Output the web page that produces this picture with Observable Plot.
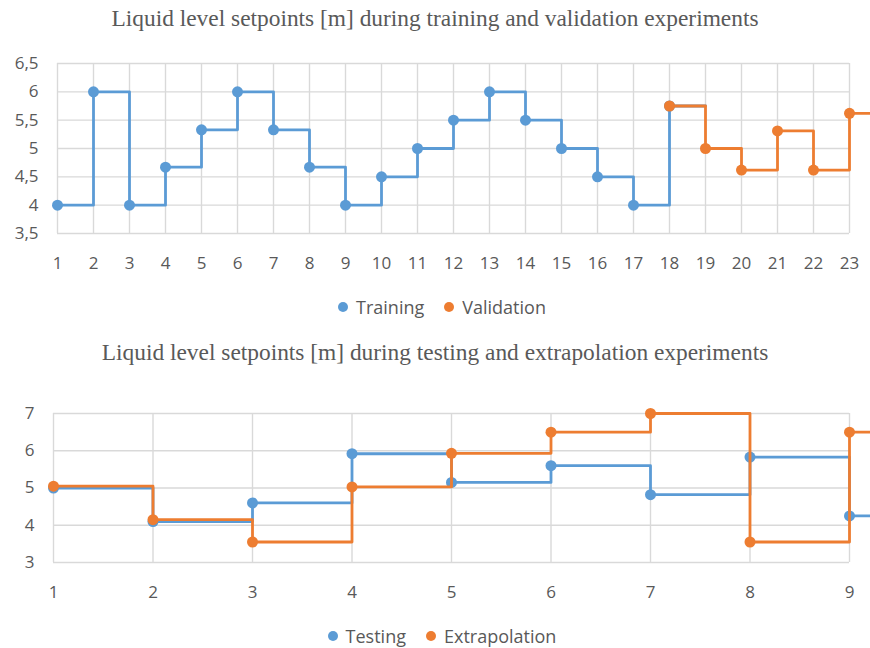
<!DOCTYPE html>
<html>
<head>
<meta charset="utf-8">
<script src="https://cdn.jsdelivr.net/npm/d3@7"></script>
<script src="https://cdn.jsdelivr.net/npm/@observablehq/plot@0.6"></script>
<style>
  html, body { margin: 0; padding: 0; background: #fff; overflow: hidden; }
  #page { position: relative; width: 870px; height: 648px; overflow: hidden; background: #fff; }
  .title { position: absolute; left: 0; width: 870px; text-align: center; line-height: 28px;
           font-family: "Liberation Serif", "DejaVu Serif", serif; font-size: 23.4px; color: #595959; }
  .legend { position: absolute; left: 7px; width: 870px; display: flex; justify-content: center;
            align-items: center; gap: 20px; line-height: 24px; font-family: "Open Sans", sans-serif; font-size: 18px; color: #595959; }
  .legend span.item { display: inline-flex; align-items: center; gap: 8px; }
  .legend i { display: inline-block; width: 10px; height: 10px; border-radius: 50%; }
  .chart { position: absolute; left: 0; }
</style>
</head>
<body>
<div id="page">
  <div class="title" style="top:4px">Liquid level setpoints [m] during training and validation experiments</div>
  <div class="chart" id="top" style="top:40px"></div>
  <div class="legend" id="legendTop" style="top:295px"></div>
  <div class="title" style="top:338px">Liquid level setpoints [m] during testing and extrapolation experiments</div>
  <div class="chart" id="bottom" style="top:390px"></div>
  <div class="legend" id="legendBottom" style="top:624px"></div>
</div>
<script>
// Experiment numbers and level setpoints [m]
const trainingSteps = [1, 2, 3, 4, 5, 6, 7, 8, 9, 10, 11, 12, 13, 14, 15, 16, 17, 18];
const trainingLevels = [4, 6, 4, 4.67, 5.33, 6, 5.33, 4.67, 4, 4.5, 5, 5.5, 6, 5.5, 5, 4.5, 4, 5.75];
const validationSteps = [18, 19, 20, 21, 22, 23];
const validationLevels = [5.75, 5, 4.62, 5.31, 4.62, 5.62];

const testSteps = [1, 2, 3, 4, 5, 6, 7, 8, 9];
const testingLevels = [5.0, 4.1, 4.6, 5.92, 5.15, 5.6, 4.82, 5.83, 4.25];
const extrapolationLevels = [5.05, 4.15, 3.55, 5.03, 5.93, 6.5, 7.0, 3.55, 6.5];

const topXTicks = d3.range(1, 24);
const topYTicks = [3.5, 4, 4.5, 5, 5.5, 6, 6.5];
const bottomXTicks = d3.range(1, 10);
const bottomYTicks = [3, 4, 5, 6, 7];

const BLUE = "#5B9BD5";
const ORANGE = "#ED7D31";
const GRID = "#d9d9d9";
const TEXT = "#595959";

const rows = (xs, ys) => xs.map((x, i) => ({x, y: ys[i]}));
// the last setpoint is held past the final experiment, running off the right edge
const held = (r) => [...r, {x: r[r.length - 1].x + 1, y: r[r.length - 1].y}];
const commaFormat = (d) => String(d).replace(".", ",");

function stepChart({height, marginTop, marginBottom, marginLeft, marginRight, xDomain, yDomain, xTicks, yTicks, series}) {
  const marks = [
    Plot.gridX(xTicks, {stroke: GRID, strokeOpacity: 1, strokeWidth: 1.4}),
    Plot.gridY(yTicks, {stroke: GRID, strokeOpacity: 1, strokeWidth: 1.4}),
    Plot.axisX(xTicks, {tickSize: 0, tickPadding: 23, label: null, fill: TEXT, fontSize: 17}),
    Plot.axisY(yTicks, {tickSize: 0, tickPadding: 19, label: null, tickFormat: commaFormat, fill: TEXT, fontSize: 17})
  ];
  for (const s of series) {
    marks.push(Plot.line(held(s.data), {x: "x", y: "y", curve: "step-after", stroke: s.color, strokeWidth: 2.8}));
    marks.push(Plot.dot(s.data, {x: "x", y: "y", r: 5.5, fill: s.color, stroke: "none"}));
  }
  return Plot.plot({
    width: 870, height, marginTop, marginBottom, marginLeft, marginRight,
    x: {domain: xDomain, label: null},
    y: {domain: yDomain, label: null},
    style: {fontFamily: "'Open Sans', sans-serif", fontSize: "17px", color: TEXT, overflow: "hidden", background: "white"},
    marks
  });
}

document.getElementById("top").append(stepChart({
  height: 240, marginTop: 23, marginBottom: 47, marginLeft: 57, marginRight: 21,
  xDomain: [1, 23], yDomain: [3.5, 6.5], xTicks: topXTicks, yTicks: topYTicks,
  series: [
    {data: rows(trainingSteps, trainingLevels), color: BLUE},
    {data: rows(validationSteps, validationLevels), color: ORANGE}
  ]
}));

document.getElementById("bottom").append(stepChart({
  height: 220, marginTop: 23, marginBottom: 48, marginLeft: 53, marginRight: 21,
  xDomain: [1, 9], yDomain: [3, 7], xTicks: bottomXTicks, yTicks: bottomYTicks,
  series: [
    {data: rows(testSteps, testingLevels), color: BLUE},
    {data: rows(testSteps, extrapolationLevels), color: ORANGE}
  ]
}));

function legend(id, items) {
  const el = document.getElementById(id);
  for (const [name, color] of items) {
    const item = document.createElement("span");
    item.className = "item";
    const dot = document.createElement("i");
    dot.style.background = color;
    item.append(dot, document.createTextNode(name));
    el.append(item);
  }
}
legend("legendTop", [["Training", BLUE], ["Validation", ORANGE]]);
legend("legendBottom", [["Testing", BLUE], ["Extrapolation", ORANGE]]);
</script>
</body>
</html>
